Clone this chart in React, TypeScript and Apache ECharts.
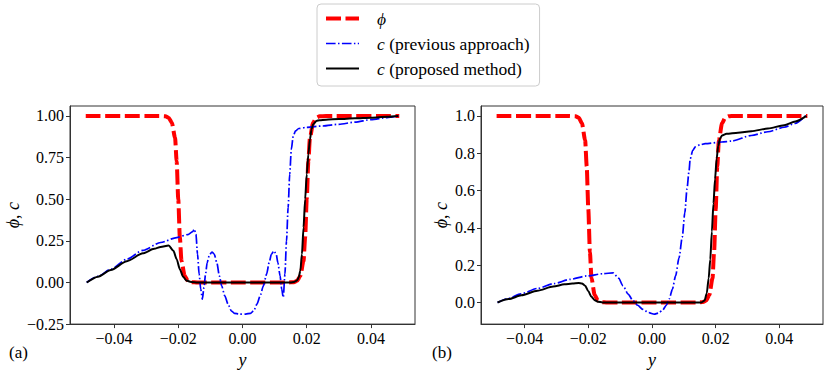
import React, { useEffect, useRef } from "react";
import * as echarts from "echarts";

// ---------- data ----------
const X_TICKS = [-0.04, -0.02, 0, 0.02, 0.04];
const Y_TICKS_A = [-0.25, 0, 0.25, 0.5, 0.75, 1];
const Y_TICKS_B = [0, 0.2, 0.4, 0.6, 0.8, 1];

// phi (same interface profile in both panels)
const phiX = [-0.0488, -0.026, -0.024, -0.023, -0.022, -0.021, -0.0205, -0.02, -0.0195, -0.019, -0.018, -0.017, -0.016, -0.014, 0.0, 0.014, 0.016, 0.017, 0.018, 0.019, 0.0195, 0.02, 0.0205, 0.021, 0.022, 0.023, 0.024, 0.026, 0.0488];
const phiY = [1, 1, 0.998, 0.99, 0.96, 0.87, 0.73, 0.5, 0.27, 0.13, 0.04, 0.01, 0.002, 0, 0, 0, 0.002, 0.01, 0.04, 0.13, 0.27, 0.5, 0.73, 0.87, 0.96, 0.99, 0.998, 1, 1];

// panel (a) – previous approach
const prevAX = [-0.0485, -0.045, -0.041, -0.036, -0.031, -0.0255, -0.0205, -0.017, -0.0155, -0.015, -0.0145, -0.014, -0.0135, -0.013, -0.0125, -0.012, -0.0115, -0.011, -0.0103, -0.0095, -0.0088, -0.008, -0.0072, -0.0065, -0.0055, -0.0045, -0.0035, -0.0025, -0.001, 0.001, 0.0025, 0.0035, 0.0045, 0.0055, 0.0065, 0.0075, 0.0083, 0.009, 0.0098, 0.0105, 0.011, 0.0117, 0.0122, 0.0127, 0.0132, 0.0137, 0.0142, 0.0147, 0.0152, 0.0158, 0.0165, 0.0175, 0.02, 0.025, 0.03, 0.035, 0.04, 0.045, 0.0485];
const prevAY = [0, 0.037, 0.079, 0.14, 0.193, 0.24, 0.27, 0.288, 0.305, 0.32, 0.29, 0.17, 0.05, -0.04, -0.1, -0.03, 0.05, 0.12, 0.165, 0.183, 0.17, 0.12, 0.04, -0.02, -0.08, -0.13, -0.17, -0.185, -0.19, -0.19, -0.185, -0.17, -0.13, -0.08, -0.02, 0.05, 0.12, 0.17, 0.19, 0.17, 0.12, 0.04, -0.04, -0.09, 0.05, 0.25, 0.45, 0.65, 0.8, 0.88, 0.91, 0.925, 0.932, 0.94, 0.95, 0.963, 0.978, 0.99, 1.0];

// panel (a) – proposed method
const propAX = [-0.0485, -0.045, -0.041, -0.036, -0.031, -0.0275, -0.0255, -0.023, -0.0215, -0.0205, -0.0195, -0.0185, -0.0175, -0.016, -0.014, 0.0, 0.015, 0.016, 0.017, 0.0175, 0.018, 0.0185, 0.019, 0.0195, 0.02, 0.0205, 0.021, 0.0215, 0.022, 0.023, 0.024, 0.026, 0.03, 0.035, 0.04, 0.045, 0.0485];
const propAY = [0, 0.035, 0.075, 0.128, 0.175, 0.202, 0.213, 0.222, 0.19, 0.14, 0.08, 0.035, 0.012, 0.003, 0, 0, 0, 0.003, 0.012, 0.03, 0.07, 0.17, 0.33, 0.5, 0.65, 0.77, 0.86, 0.92, 0.95, 0.97, 0.975, 0.978, 0.982, 0.986, 0.99, 0.995, 1.0];

// panel (b) – previous approach
const prevBX = [-0.0485, -0.045, -0.0412, -0.036, -0.0308, -0.0257, -0.0205, -0.0153, -0.0122, -0.0105, -0.0091, -0.0075, -0.006, -0.0045, -0.0029, -0.001, 0.0007, 0.002, 0.0033, 0.0045, 0.0054, 0.0064, 0.0074, 0.0085, 0.0095, 0.0103, 0.011, 0.0116, 0.012, 0.0128, 0.0136, 0.015, 0.0167, 0.0219, 0.025, 0.0312, 0.0364, 0.0415, 0.045, 0.0482];
const prevBY = [0, 0.022, 0.046, 0.075, 0.101, 0.124, 0.142, 0.154, 0.159, 0.13, 0.089, 0.045, 0.011, -0.015, -0.037, -0.055, -0.063, -0.057, -0.042, -0.015, 0.019, 0.07, 0.142, 0.24, 0.35, 0.48, 0.61, 0.7, 0.77, 0.815, 0.834, 0.845, 0.851, 0.86, 0.865, 0.895, 0.915, 0.939, 0.96, 1.0];

// panel (b) – proposed method
const propBX = [-0.0485, -0.045, -0.041, -0.036, -0.031, -0.0275, -0.025, -0.023, -0.022, -0.021, -0.02, -0.019, -0.018, -0.017, -0.0155, 0.0155, 0.0165, 0.0172, 0.0178, 0.0183, 0.0188, 0.0193, 0.0198, 0.0203, 0.0208, 0.0214, 0.022, 0.0234, 0.027, 0.0312, 0.0364, 0.0415, 0.045, 0.0485];
const propBY = [0, 0.018, 0.038, 0.063, 0.085, 0.097, 0.102, 0.104, 0.102, 0.09, 0.06, 0.03, 0.012, 0.004, 0, 0, 0.01, 0.05, 0.13, 0.23, 0.38, 0.53, 0.66, 0.77, 0.84, 0.88, 0.895, 0.904, 0.91, 0.918, 0.932, 0.95, 0.97, 1.0];

const NAME_PHI = "ϕ";
const NAME_PREV = "c (previous approach)";
const NAME_PROP = "c (proposed method)";

// ---------- styling ----------
const FONT = "Liberation Serif";
const AXIS_COLOR = "#333333";
const PHI_STYLE = { color: "#ff0000", width: 4, type: [15, 4.5] as number[], cap: "butt" as const };
const PREV_STYLE = { color: "#0000ff", width: 1.7, type: [9.6, 2.4, 1.5, 2.4] as number[], cap: "butt" as const };
const PROP_STYLE = { color: "#000000", width: 2, type: "solid" as const };

const zip = (xs: number[], ys: number[]) => xs.map((x, i) => [x, ys[i]]);
const fmt = (v: number, d: number) => (v < 0 ? "\u2212" : "") + Math.abs(v).toFixed(d);

function xAxisFor(gridIndex: number) {
  return {
    type: "value" as const,
    gridIndex,
    min: -0.0537,
    max: 0.0537,
    name: "{i|y}",
    nameLocation: "middle" as const,
    nameGap: 20,
    nameTextStyle: {
      fontFamily: FONT,
      rich: { i: { fontFamily: FONT, fontStyle: "italic", fontSize: 18, color: "#000" } },
    },
    axisLine: { show: true, onZero: false, lineStyle: { color: AXIS_COLOR, width: 1 } },
    axisTick: { show: true, length: 4, customValues: X_TICKS, lineStyle: { color: AXIS_COLOR } },
    axisLabel: {
      customValues: X_TICKS,
      formatter: (v: number) => fmt(v, 2),
      fontFamily: FONT,
      fontSize: 16,
      color: "#000",
      margin: 6,
    },
    splitLine: { show: false },
  };
}

function yAxisFor(gridIndex: number, min: number, max: number, ticks: number[], dec: number, gap: number) {
  return {
    type: "value" as const,
    gridIndex,
    min,
    max,
    name: "{i|ϕ}{r|, }{i|c}",
    nameLocation: "middle" as const,
    nameRotate: 90,
    nameGap: gap,
    nameTextStyle: {
      fontFamily: FONT,
      fontSize: 18,
      color: "#000",
      rich: {
        i: { fontFamily: FONT, fontStyle: "italic", fontSize: 18, color: "#000" },
        r: { fontFamily: FONT, fontSize: 18, color: "#000" },
      },
    },
    axisLine: { show: true, onZero: false, lineStyle: { color: AXIS_COLOR, width: 1 } },
    axisTick: { show: true, length: 4, customValues: ticks, lineStyle: { color: AXIS_COLOR } },
    axisLabel: {
      customValues: ticks,
      formatter: (v: number) => fmt(v, dec),
      fontFamily: FONT,
      fontSize: 16,
      color: "#000",
      margin: 6,
    },
    splitLine: { show: false },
  };
}

function lineSeries(name: string, xs: number[], ys: number[], idx: number, style: any, z: number) {
  return {
    type: "line" as const,
    name,
    xAxisIndex: idx,
    yAxisIndex: idx,
    data: zip(xs, ys),
    symbol: "none",
    showSymbol: false,
    color: style.color,
    smooth: 0.25,
    smoothMonotone: "x" as const,
    lineStyle: style,
    z,
    silent: true,
  };
}

const HIDDEN = { color: "rgba(0,0,0,0)", borderColor: "rgba(0,0,0,0)", borderWidth: 0 };

export default function App() {
  const ref = useRef<HTMLDivElement>(null);

  useEffect(() => {
    if (!ref.current) return;
    const chart = echarts.init(ref.current, undefined, { renderer: "svg" });
    chart.setOption({
      animation: false,
      backgroundColor: "#ffffff",
      textStyle: { fontFamily: FONT },
      grid: [
        { left: 70, top: 106, width: 345, height: 222, show: true, borderColor: AXIS_COLOR, borderWidth: 1, containLabel: false },
        { left: 481, top: 106, width: 342, height: 222, show: true, borderColor: AXIS_COLOR, borderWidth: 1, containLabel: false },
      ],
      xAxis: [xAxisFor(0), xAxisFor(1)],
      yAxis: [
        yAxisFor(0, -0.25, 1.06, Y_TICKS_A, 2, 48),
        yAxisFor(1, -0.116, 1.053, Y_TICKS_B, 1, 31),
      ],
      legend: {
        orient: "vertical",
        left: 317,
        top: 4,
        padding: [5, 10, 8, 7],
        itemGap: 6,
        itemWidth: 33,
        itemHeight: 14,
        backgroundColor: "rgba(255,255,255,0.8)",
        borderColor: "#cccccc",
        borderWidth: 1,
        borderRadius: 4,
        selectedMode: false,
        data: [
          { name: NAME_PHI, itemStyle: HIDDEN, lineStyle: { color: "#ff0000", width: 4, type: [15, 4.5] } },
          { name: NAME_PREV, itemStyle: HIDDEN, lineStyle: { color: "#0000ff", width: 1.7, type: [9.6, 2.4, 1.5, 2.4] } },
          { name: NAME_PROP, itemStyle: HIDDEN, lineStyle: { color: "#000000", width: 2, type: "solid" } },
        ],
        formatter: (name: string) => {
          if (name === NAME_PHI) return "{i|ϕ}";
          return "{i|c}{r|" + name.slice(1) + "}";
        },
        textStyle: {
          fontFamily: FONT,
          fontSize: 17.5,
          color: "#000",
          lineHeight: 19,
          padding: [0, 0, 0, 13],
          rich: {
            i: { fontFamily: FONT, fontStyle: "italic", fontSize: 17.5, color: "#000", lineHeight: 19 },
            r: { fontFamily: FONT, fontSize: 17.5, color: "#000", lineHeight: 19 },
          },
        },
      },
      graphic: [
        { type: "text", left: 9, top: 344, style: { text: "(a)", font: `17px ${FONT}`, fill: "#000" } },
        { type: "text", left: 432, top: 344, style: { text: "(b)", font: `17px ${FONT}`, fill: "#000" } },
      ],
      series: [
        lineSeries(NAME_PHI, phiX, phiY, 0, PHI_STYLE, 2),
        lineSeries(NAME_PREV, prevAX, prevAY, 0, PREV_STYLE, 3),
        lineSeries(NAME_PROP, propAX, propAY, 0, PROP_STYLE, 4),
        lineSeries(NAME_PHI, phiX, phiY, 1, PHI_STYLE, 2),
        lineSeries(NAME_PREV, prevBX, prevBY, 1, PREV_STYLE, 3),
        lineSeries(NAME_PROP, propBX, propBY, 1, PROP_STYLE, 4),
      ],
    });
    return () => chart.dispose();
  }, []);

  return (
    <div
      ref={ref}
      style={{ position: "fixed", left: 0, top: 0, width: 830, height: 374, background: "#fff" }}
    />
  );
}
